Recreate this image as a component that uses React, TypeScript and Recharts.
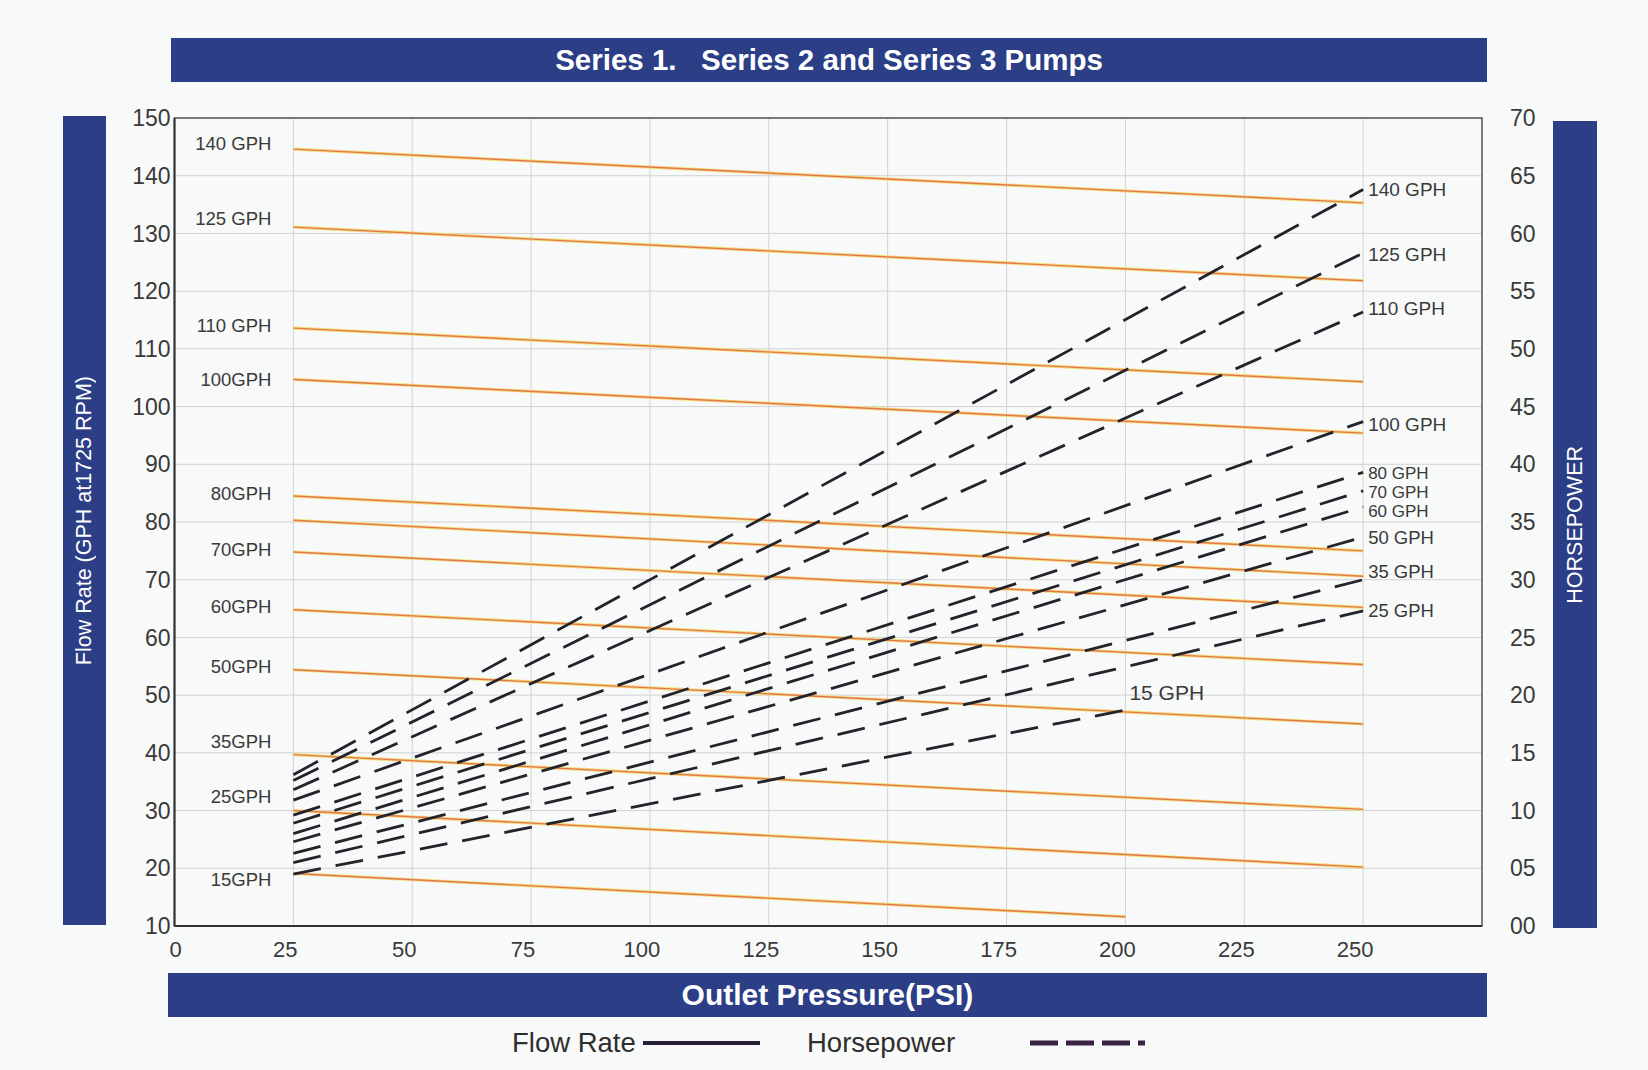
import React from 'react';
import { LineChart, Line, XAxis, YAxis, CartesianGrid, ReferenceArea } from 'recharts';

// axes
const PSI_TICKS = [0, 25, 50, 75, 100, 125, 150, 175, 200, 225, 250];
const FLOW_TICKS = [10, 20, 30, 40, 50, 60, 70, 80, 90, 100, 110, 120, 130, 140, 150];
const HP_TICKS = [0, 5, 10, 15, 20, 25, 30, 35, 40, 45, 50, 55, 60, 65, 70];

// flow rate (solid) lines, value at 25 psi and at the end pressure
const FLOW_NAMES = ['140 GPH', '125 GPH', '110 GPH', '100GPH', '80GPH', '', '70GPH', '60GPH', '50GPH', '35GPH', '25GPH', '15GPH'];
const FLOW_START = [144.6, 131.1, 113.6, 104.7, 84.5, 80.3, 74.8, 64.8, 54.4, 39.7, 30.0, 19.1];
const FLOW_END = [135.3, 121.8, 104.3, 95.4, 75.0, 70.6, 65.2, 55.3, 45.0, 30.2, 20.2, 11.6];
const FLOW_END_PSI = [250, 250, 250, 250, 250, 250, 250, 250, 250, 250, 250, 200];

// horsepower (dashed) lines
const HP_NAMES = ['140 GPH', '125 GPH', '110 GPH', '100 GPH', '80 GPH', '70 GPH', '60 GPH', '50 GPH', '35 GPH', '25 GPH', '15 GPH'];
const HP_START = [13.1, 12.6, 11.8, 10.9, 9.6, 8.9, 8.0, 7.3, 6.3, 5.5, 4.5];
const HP_END = [63.8, 58.3, 53.2, 43.7, 39.3, 37.7, 36.3, 33.7, 30.0, 27.3, 18.7];
const HP_END_PSI = [250, 250, 250, 250, 250, 250, 250, 250, 250, 250, 200];

const START_PSI = 25;

// label nudges / sizes (px)
const FLOW_LABEL_DY = [-6, -9, -3, 0, -3, 0, -3, -3, -3, -13, -14, 6];
const HP_LABEL_DX = [5, 5, 5, 5, 5, 5, 5, 5, 5, 5, 4];
const HP_LABEL_DY = [0, 1, -3, 3, 1, 2, 5, 0, -8, 0, -18];
const HP_LABEL_SIZE = [19, 19, 19, 19, 17, 17, 17, 18.5, 18.5, 18.5, 21];

const NAVY = '#2c3f86';
const SANS = '"Liberation Sans", Arial, Helvetica, sans-serif';

const flowData = FLOW_START.map((s, i) => [
  { psi: START_PSI, v: s },
  { psi: FLOW_END_PSI[i], v: FLOW_END[i] },
]);
const hpData = HP_START.map((s, i) => [
  { psi: START_PSI, v: s },
  { psi: HP_END_PSI[i], v: HP_END[i] },
]);

const flowLabel = (i: number) => (p: any) => {
  if (p.index !== 0 || !FLOW_NAMES[i]) return <g key={`fl-${i}-${p.index}`} />;
  return (
    <text key={`fl-${i}`} x={p.cx - 22} y={p.cy + FLOW_LABEL_DY[i]} textAnchor="end" dominantBaseline="central"
      fontSize={18.5} fontFamily={SANS} fill="#3a3a3a">{FLOW_NAMES[i]}</text>
  );
};

const hpLabel = (i: number) => (p: any) => {
  if (p.index !== 1) return <g key={`hl-${i}-${p.index}`} />;
  return (
    <text key={`hl-${i}`} x={p.cx + HP_LABEL_DX[i]} y={p.cy + HP_LABEL_DY[i]} textAnchor="start" dominantBaseline="central"
      fontSize={HP_LABEL_SIZE[i]} fontFamily={SANS} fill="#3a3a3a">{HP_NAMES[i]}</text>
  );
};

const PsiTick = (p: any) => {
  const v = p.payload.value;
  return (
    <text x={p.x + (v === 0 ? 1 : -8)} y={p.y} dy="0.71em" textAnchor="middle" fontSize={22} fontFamily={SANS} fill="#3a3a3a">
      {v}
    </text>
  );
};

const bar: React.CSSProperties = {
  position: 'absolute',
  background: NAVY,
  color: '#fff',
  display: 'flex',
  alignItems: 'center',
  justifyContent: 'center',
};

export default function App() {
  return (
    <div style={{ position: 'absolute', left: 0, top: 0, width: 1648, height: 1070, background: '#f8f9f9', overflow: 'hidden' }}>
      <div style={{ position: 'absolute', left: 0, top: 0 }}>
        <LineChart width={1648} height={1070} margin={{ top: 118, right: 106, bottom: 104, left: 114.5 }}>
          <CartesianGrid yAxisId="flow" stroke="#d2d2d2" strokeWidth={1} horizontalValues={FLOW_TICKS} verticalValues={PSI_TICKS} />
          <XAxis dataKey="psi" type="number" domain={[0, 275]} ticks={PSI_TICKS} allowDuplicatedCategory={false}
            height={40} tickSize={0} tickMargin={15} axisLine={{ stroke: '#333', strokeWidth: 2 }} tickLine={false}
            tick={PsiTick} />
          <YAxis yAxisId="flow" orientation="left" domain={[10, 150]} ticks={FLOW_TICKS} width={60}
            tickSize={0} tickMargin={4} axisLine={{ stroke: '#333', strokeWidth: 2 }} tickLine={false}
            tick={{ fontSize: 23, fill: '#3a3a3a', fontFamily: SANS }} />
          <YAxis yAxisId="hp" orientation="right" domain={[0, 70]} ticks={HP_TICKS} width={60}
            tickSize={0} tickMargin={28} axisLine={false} tickLine={false}
            tickFormatter={(v: number) => (v < 10 ? `0${v}` : `${v}`)}
            tick={{ fontSize: 23, fill: '#3a3a3a', fontFamily: SANS, textAnchor: 'start' }} />
          <ReferenceArea yAxisId="flow" x1={0} x2={275} y1={10} y2={150} fill="none" stroke="#555" strokeWidth={1.5} />

          {flowData.map((d, i) => (
            <Line key={`fy-${i}`} yAxisId="flow" data={d} dataKey="v" type="linear" stroke="#f5dc7a"
              strokeWidth={3.2} dot={false} activeDot={false} isAnimationActive={false} legendType="none" />
          ))}
          {flowData.map((d, i) => (
            <Line key={`fr-${i}`} yAxisId="flow" data={d} dataKey="v" name={FLOW_NAMES[i]} type="linear" stroke="#e07a52"
              strokeWidth={1.4} dot={flowLabel(i)} activeDot={false} isAnimationActive={false} />
          ))}
          {hpData.map((d, i) => (
            <Line key={`hp-${i}`} yAxisId="hp" data={d} dataKey="v" name={HP_NAMES[i]} type="linear" stroke="#23232c"
              strokeWidth={2.8} strokeDasharray="28 15" dot={hpLabel(i)} activeDot={false} isAnimationActive={false} />
          ))}
        </LineChart>
      </div>

      <div style={{ ...bar, left: 171, top: 38, width: 1316, height: 44 }}>
        <span style={{ fontFamily: SANS, fontWeight: 700, fontSize: 29.5, whiteSpace: 'pre' }}>{'Series 1.   Series 2 and Series 3 Pumps'}</span>
      </div>
      <div style={{ ...bar, left: 63, top: 116, width: 43, height: 809 }}>
        <span style={{ writingMode: 'vertical-rl', transform: 'rotate(180deg)', fontFamily: SANS, fontSize: 21.5 }}>Flow Rate (GPH at1725 RPM)</span>
      </div>
      <div style={{ ...bar, left: 1553, top: 121, width: 44, height: 807 }}>
        <span style={{ writingMode: 'vertical-rl', transform: 'rotate(180deg)', fontFamily: SANS, fontSize: 21.5 }}>HORSEPOWER</span>
      </div>
      <div style={{ ...bar, left: 168, top: 973, width: 1319, height: 44 }}>
        <span style={{ fontFamily: SANS, fontWeight: 700, fontSize: 30 }}>Outlet Pressure(PSI)</span>
      </div>

      <div style={{ position: 'absolute', left: 512, top: 1026, fontFamily: SANS, fontSize: 27.5, color: '#2e2e2e', lineHeight: '34px' }}>Flow Rate</div>
      <svg style={{ position: 'absolute', left: 642, top: 1036 }} width={122} height={14}>
        <line x1={1} y1={7} x2={118} y2={7} stroke="#2a1f36" strokeWidth={4} />
      </svg>
      <div style={{ position: 'absolute', left: 807, top: 1026, fontFamily: SANS, fontSize: 27.5, color: '#2e2e2e', lineHeight: '34px' }}>Horsepower</div>
      <svg style={{ position: 'absolute', left: 1028, top: 1036 }} width={120} height={14}>
        <line x1={2} y1={7} x2={112} y2={7} stroke="#3a2242" strokeWidth={5} strokeDasharray="28 8" />
        <line x1={112} y1={7} x2={117} y2={7} stroke="#3a2242" strokeWidth={5} />
      </svg>
    </div>
  );
}
